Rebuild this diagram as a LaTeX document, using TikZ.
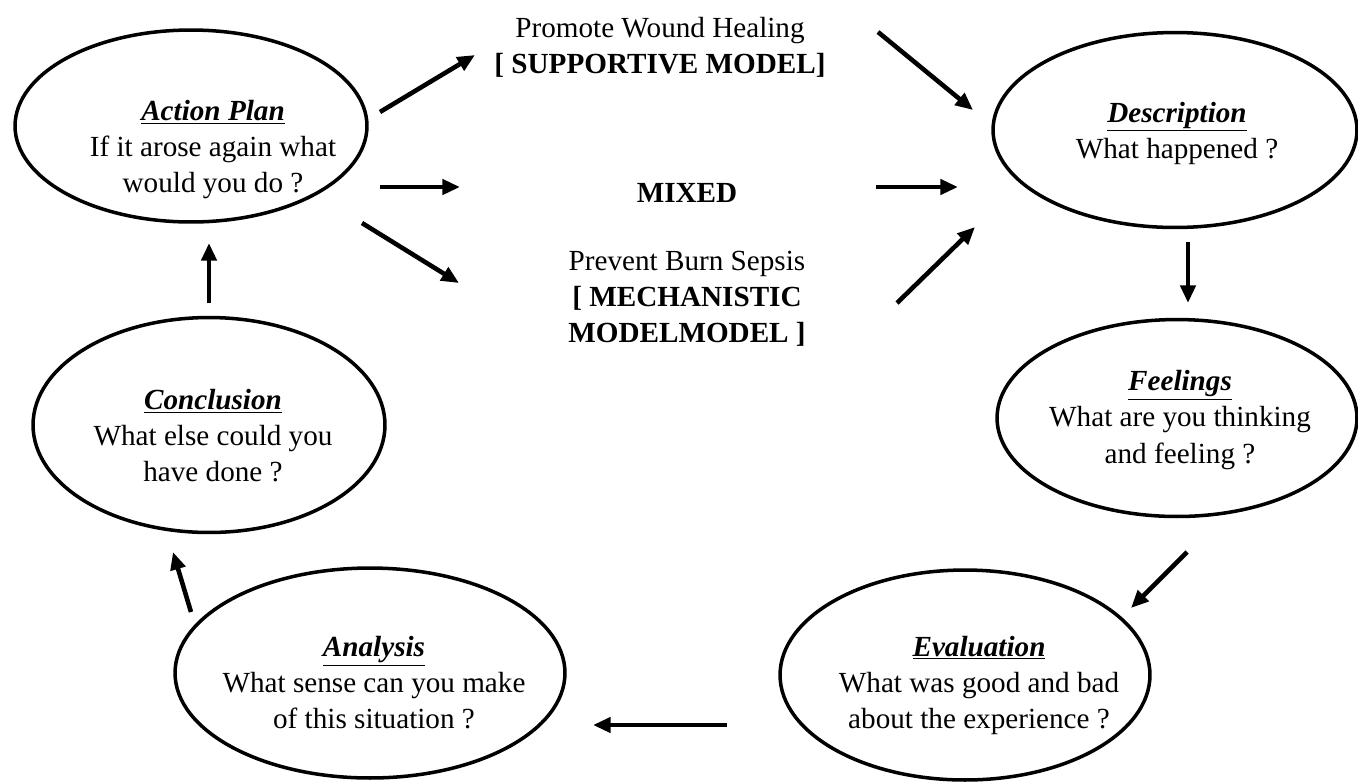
\documentclass[tikz,border=0pt]{standalone}
\usepackage{fontspec}
\setmainfont{Liberation Serif}
\usetikzlibrary{positioning,shapes.geometric,arrows.meta}

\begin{document}
\begin{tikzpicture}[x=0.02cm,y=-0.02cm,
    stage/.style={draw,ellipse,line width=2pt,inner sep=0pt},
    lbl/.style={align=center,font=\fontsize{16.6}{20.5}\selectfont},
    arr/.style={line width=2.6pt,-{Triangle[length=10pt,width=8.5pt]}}]
  \useasboundingbox (0,0) rectangle (1358,782);

  \node[stage,minimum width=7.04cm,minimum height=3.84cm] (Action) at (191,126) {};
  \node[lbl] (ActionTxt) at (213,150) {\underline{\textbf{\textit{Action Plan}}}\\If it arose again what\\would you do ?};
  \node[stage,minimum width=7.28cm,minimum height=3.9cm] (Descr) at (1175,130) {};
  \node[lbl] (DescrTxt) at (1177,133) {\underline{\textbf{\textit{Description}}}\\What happened ?};
  \node[stage,minimum width=7.2cm,minimum height=3.94cm] (Feel) at (1177,418) {};
  \node[lbl] (FeelTxt) at (1180,420) {\underline{\textbf{\textit{Feelings}}}\\What are you thinking\\and feeling ?};
  \node[stage,minimum width=7.4cm,minimum height=4.2cm] (Eval) at (965,675) {};
  \node[lbl] (EvalTxt) at (979,685) {\underline{\textbf{\textit{Evaluation}}}\\What was good and bad\\about the experience ?};
  \node[stage,minimum width=7.8cm,minimum height=4.2cm] (Anal) at (370,673) {};
  \node[lbl] (AnalTxt) at (374,683) {\underline{\textbf{\textit{Analysis}}}\\What sense can you make\\of this situation ?};
  \node[stage,minimum width=7.04cm,minimum height=4.3cm] (Concl) at (209,425) {};
  \node[lbl] (ConclTxt) at (213,436) {\underline{\textbf{\textit{Conclusion}}}\\What else could you\\have done ?};

  \node[lbl] (Mixed) at (687,193) {\textbf{MIXED}};
  \node[lbl,on grid,above left=2.92cm and 0.54cm of Mixed] (Support) {Promote Wound Healing\\\textbf{[ SUPPORTIVE MODEL]}};
  \node[lbl,on grid,below=2.12cm of Mixed] (Mechan) {Prevent Burn Sepsis\\\textbf{[ MECHANISTIC}\\\textbf{MODELMODEL ]}};

  \coordinate (ApA) at (380,112); \coordinate (ApB) at (475,55);
  \coordinate (ApC) at (380,187); \coordinate (ApD) at (460,187);
  \coordinate (ApE) at (362,223); \coordinate (ApF) at (459,283);
  \coordinate (DeA) at (878,32);  \coordinate (DeB) at (973,110);
  \coordinate (DeC) at (876,187); \coordinate (DeD) at (958,187);
  \coordinate (DeE) at (897,303); \coordinate (DeF) at (975,227);
  \draw[arr] (ApA) -- (ApB);
  \draw[arr] (ApC) -- (ApD);
  \draw[arr] (ApE) -- (ApF);
  \draw[arr] (DeA) -- (DeB);
  \draw[arr] (DeC) -- (DeD);
  \draw[arr] (DeE) -- (DeF);

  \coordinate (FeA) at (1188,242); \coordinate (FeB) at (1188,303);
  \coordinate (EvA) at (1187,552); \coordinate (EvB) at (1131,608);
  \coordinate (AnA) at (727,725);  \coordinate (AnB) at (593,725);
  \coordinate (CoA) at (191,612);  \coordinate (CoB) at (173,552);
  \coordinate (AcA) at (209,303);  \coordinate (AcB) at (209,243);
  \draw[arr] (FeA) -- (FeB);
  \draw[arr] (EvA) -- (EvB);
  \draw[arr] (AnA) -- (AnB);
  \draw[arr] (CoA) -- (CoB);
  \draw[arr] (AcA) -- (AcB);
\end{tikzpicture}
\end{document}
